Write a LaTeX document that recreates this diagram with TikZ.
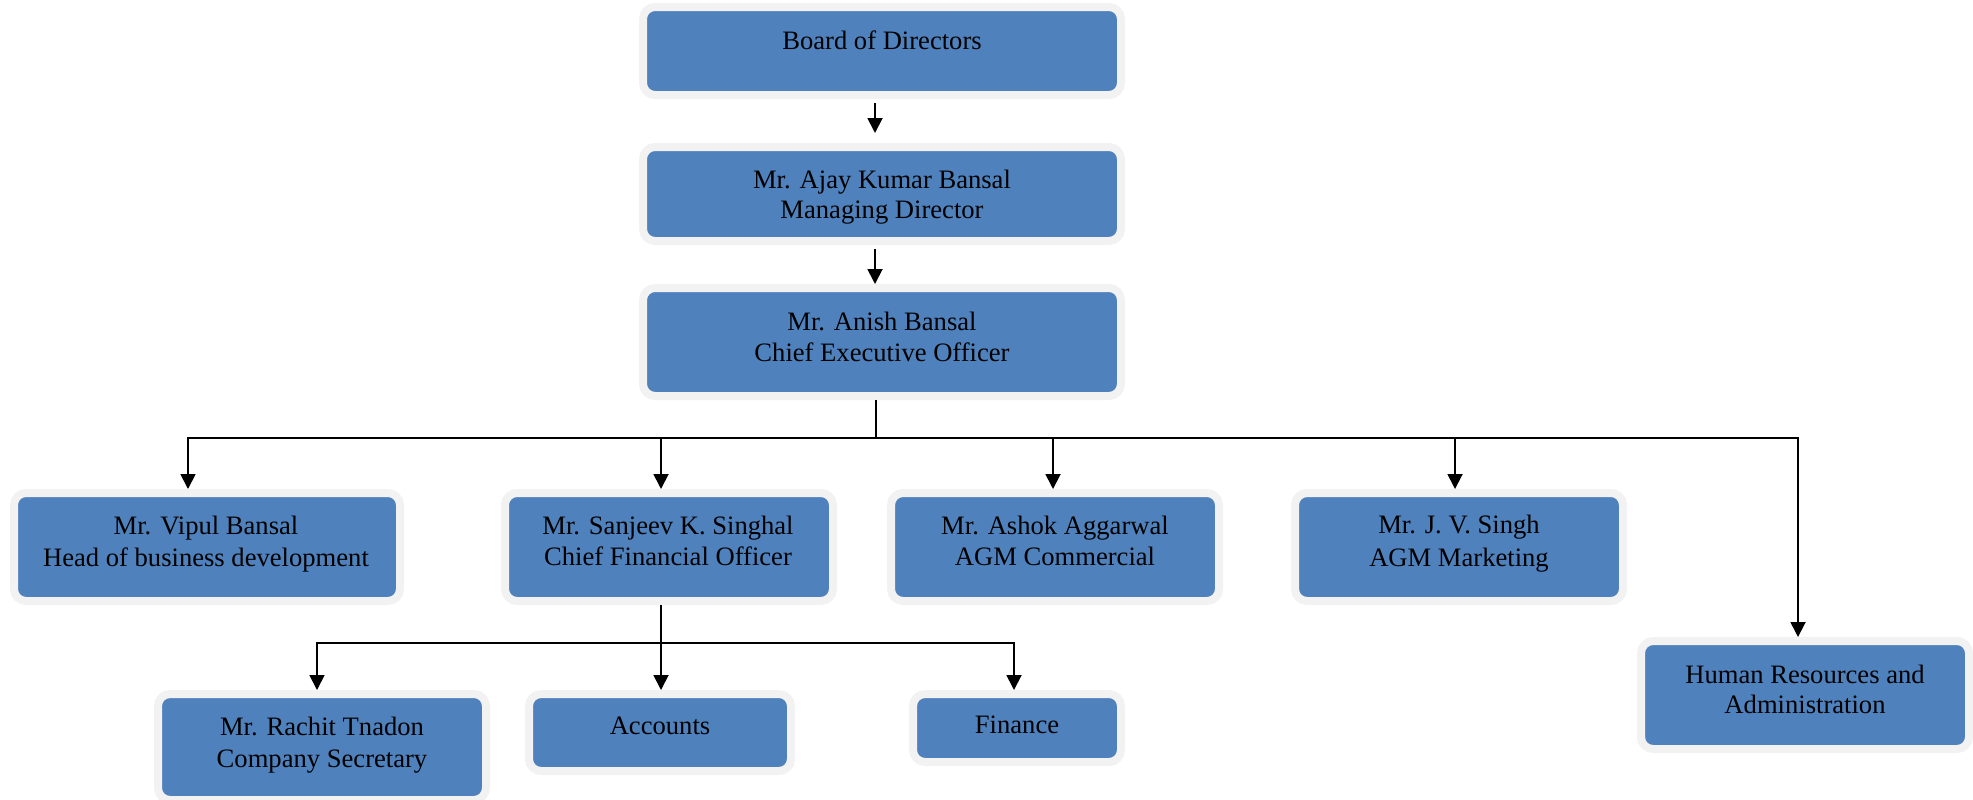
\documentclass[tikz,border=0pt]{standalone}
\usepackage{fontspec}
\setmainfont{Liberation Serif}
\usetikzlibrary{arrows.meta,calc}
\definecolor{boxblue}{HTML}{4F81BD}
\definecolor{boxgray}{HTML}{F2F2F2}
\tikzset{
  orgbox/.style={draw=boxgray, fill=boxblue, line width=4pt, rounded corners=6pt, inner sep=0pt},
  wide/.style={minimum width=239pt},
  std/.style={minimum width=164pt, minimum height=54pt},
  txt/.style={inner sep=0pt, anchor=base, font=\fontsize{13.3pt}{15.5pt}\selectfont, text=black},
  arr/.style={line width=0.9pt, -{Triangle[width=7.5pt,length=7.5pt]}},
  bus/.style={line width=0.9pt}
}
\begin{document}
\begin{tikzpicture}[x=0.5pt,y=-0.5pt]
\useasboundingbox (0,0) rectangle (1973,799);
% boxes
\node[orgbox, wide, minimum height=44pt] (board) at (882,51) {};
\node[orgbox, wide, minimum height=47pt] (md) at (882,194) {};
\node[orgbox, wide, minimum height=54pt] (ceo) at (882,342) {};
\node[orgbox, minimum width=193pt, minimum height=54pt] (vipul) at (207,547) {};
\node[orgbox, std] (cfo) at (669,547) {};
\node[orgbox, std] (ashok) at (1055,547) {};
\node[orgbox, std] (jv) at (1459,547) {};
\node[orgbox, std] (hr) at (1805,695) {};
\node[orgbox, minimum width=164pt, minimum height=53pt] (rachit) at (322,747) {};
\node[orgbox, minimum width=131pt, minimum height=38.5pt] (accounts) at (660,732.5) {};
\node[orgbox, minimum width=104pt, minimum height=34pt] (finance) at (1017,728) {};
% connectors
\draw[arr, shorten <=2pt, shorten >=5pt] ([xshift=-3.5pt]board.south) -- ([xshift=-3.5pt]md.north);
\draw[arr, shorten <=2pt] ([xshift=-3.5pt]md.south) -- ([xshift=-3.5pt]ceo.north);
\coordinate (hub) at (876,438);
\draw[bus] ([xshift=-3pt]ceo.south) -- (hub);
\draw[arr] (hub) -| ([xshift=-9.5pt]vipul.north);
\draw[arr] (hub) -| ([xshift=-4pt]cfo.north);
\draw[arr] (hub) -| ([xshift=-1pt]ashok.north);
\draw[arr] (hub) -| ([xshift=-2pt]jv.north);
\draw[arr] (hub) -| ([xshift=-3.5pt]hr.north);
\coordinate (hub2) at (661,643);
\draw[bus] ([xshift=-4pt]cfo.south) -- (hub2);
\draw[arr] (hub2) -| ([xshift=-2.5pt]rachit.north);
\draw[arr] (hub2) -| ([xshift=0.5pt]accounts.north);
\draw[arr] (hub2) -| ([xshift=-1.5pt]finance.north);
% texts
\node[txt] (board-t1) at (882,49) {Board of Directors};
\node[txt] (md-t1) at (882,188) {Mr. Ajay Kumar Bansal};
\node[txt] (md-t2) at (882,218) {Managing Director};
\node[txt] (ceo-t1) at (882,330) {Mr. Anish Bansal};
\node[txt] (ceo-t2) at (882,361) {Chief Executive Officer};
\node[txt] (vipul-t1) at (206,534) {Mr. Vipul Bansal};
\node[txt] (vipul-t2) at (206,566) {Head of business development};
\node[txt] (cfo-t1) at (668,534) {Mr. Sanjeev K. Singhal};
\node[txt] (cfo-t2) at (668,565) {Chief Financial Officer};
\node[txt] (ashok-t1) at (1055,534) {Mr. Ashok Aggarwal};
\node[txt] (ashok-t2) at (1055,565) {AGM Commercial};
\node[txt] (jv-t1) at (1459,533) {Mr. J. V. Singh};
\node[txt] (jv-t2) at (1459,566) {AGM Marketing};
\node[txt] (hr-t1) at (1805,683) {Human Resources and};
\node[txt] (hr-t2) at (1805,713) {Administration};
\node[txt] (rachit-t1) at (322,735) {Mr. Rachit Tnadon};
\node[txt] (rachit-t2) at (322,767) {Company Secretary};
\node[txt] (accounts-t1) at (660,734) {Accounts};
\node[txt] (finance-t1) at (1017,733) {Finance};
\end{tikzpicture}
\end{document}
